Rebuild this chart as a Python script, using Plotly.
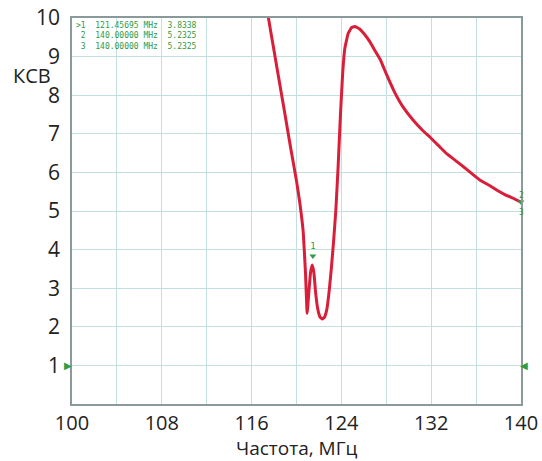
import plotly.graph_objects as go

# Frequency (MHz) and VSWR values
freq = [117.0, 117.5, 118.0, 118.5, 119.0, 119.5, 120.0, 120.3, 120.6, 120.8, 120.95,
        121.1, 121.25, 121.4, 121.55, 121.7, 121.9, 122.1, 122.3, 122.5, 122.7, 122.9,
        123.1, 123.3, 123.5, 123.7, 123.9, 124.1, 124.3, 124.6, 124.9, 125.2, 125.6,
        126.0, 126.5, 127.0, 127.5, 128.0, 128.7, 129.5, 130.4, 131.2, 131.9, 132.7,
        133.4, 134.2, 134.9, 135.7, 136.4, 137.2, 137.9, 138.6, 139.3, 140.0]
vswr = [10.85, 10.0, 9.15, 8.3, 7.46, 6.6, 5.78, 5.2, 4.45, 3.4, 2.35,
        2.9, 3.4, 3.6, 3.4, 2.9, 2.45, 2.25, 2.2, 2.25, 2.45, 2.9,
        3.5, 4.2, 5.0, 6.1, 7.4, 8.5, 9.2, 9.6, 9.75, 9.78, 9.72,
        9.6, 9.4, 9.15, 8.9, 8.55, 8.1, 7.69, 7.35, 7.1, 6.91, 6.68,
        6.48, 6.3, 6.14, 5.95, 5.79, 5.66, 5.53, 5.42, 5.33, 5.23]

x_ticks = [100, 108, 116, 124, 132, 140]
y_ticks = [1, 2, 3, 4, 5, 6, 7, 8, 9, 10]

marker_freq = [121.45695, 140.0, 140.0]
marker_vswr = [3.8338, 5.2325, 5.2325]
marker_names = ["1", "2", "3"]
marker_table = [">1  121.45695 MHz  3.8338",
                " 2  140.00000 MHz  5.2325",
                " 3  140.00000 MHz  5.2325"]

ref_level = 1

RED = "#d91e3a"
GREEN = "#2e9b45"
GRID = "#c2e0e0"

fig = go.Figure()
fig.add_trace(go.Scatter(x=freq, y=vswr, mode="lines",
                         line=dict(color=RED, width=3, shape="spline", smoothing=0.3),
                         showlegend=False, hoverinfo="skip"))

# marker 1
fig.add_trace(go.Scatter(x=[marker_freq[0]], y=[marker_vswr[0]], mode="markers+text",
                         marker=dict(symbol="triangle-down", size=6, color=GREEN),
                         text=[marker_names[0]], textposition="top center",
                         textfont=dict(color=GREEN, size=9, family="DejaVu Sans Mono"),
                         showlegend=False, cliponaxis=False))
# markers 2, 3
fig.add_trace(go.Scatter(x=[marker_freq[1]], y=[marker_vswr[1]], mode="markers",
                         marker=dict(symbol="triangle-down", size=6, color=GREEN),
                         showlegend=False, cliponaxis=False))
fig.add_annotation(x=marker_freq[1], y=marker_vswr[1], text=marker_names[1], showarrow=False,
                   yshift=7, font=dict(color=GREEN, size=8, family="DejaVu Sans Mono"))
fig.add_annotation(x=marker_freq[2], y=marker_vswr[2], text=marker_names[2], showarrow=False,
                   yshift=-10, font=dict(color=GREEN, size=8, family="DejaVu Sans Mono"))

# reference level triangles
fig.add_annotation(x=x_ticks[0], y=ref_level, text="▶", showarrow=False, xshift=-4,
                   font=dict(color=GREEN, size=10))
fig.add_annotation(x=x_ticks[-1], y=ref_level, text="◀", showarrow=False, xshift=3,
                   font=dict(color=GREEN, size=10))

# marker table
fig.add_annotation(xref="paper", yref="paper", x=0.005, y=0.997,
                   xanchor="left", yanchor="top", showarrow=False, align="left",
                   text="<br>".join(l.replace(" ", "&nbsp;") for l in marker_table),
                   font=dict(color=GREEN, size=8, family="DejaVu Sans Mono"))

fig.add_annotation(xref="paper", yref="y", x=-0.089, y=8.5, text="КСВ", showarrow=False,
                   xanchor="center", yanchor="middle",
                   font=dict(size=20, color="#222", family="Open Sans"))

# x axis title as annotation (placed below tick labels)
fig.add_annotation(xref="paper", yref="paper", x=0.5, y=-0.113, text="Частота, МГц",
                   showarrow=False, xanchor="center", yanchor="middle",
                   font=dict(size=19, color="#222", family="Open Sans"))

fig.update_layout(
    width=542, height=461,
    margin=dict(l=72, r=21, t=18, b=57),
    paper_bgcolor="white", plot_bgcolor="white",
    font=dict(family="Open Sans", color="#222"),
    xaxis=dict(range=[100, 140], tickvals=x_ticks, showgrid=True, gridcolor=GRID,
               minor=dict(dtick=4, tick0=100, showgrid=True, gridcolor=GRID, ticks=""),
               showline=True, linecolor="#8a9a9a", linewidth=1.5, mirror=True,
               ticks="", tickfont=dict(size=20), zeroline=False, automargin=False),
    yaxis=dict(range=[0, 10], tickvals=y_ticks, showgrid=True, gridcolor=GRID,
               showline=True, linecolor="#8a9a9a", linewidth=1.5, mirror=True,
               ticks="", tickfont=dict(size=21), zeroline=False, ticklabelstandoff=6,
               automargin=False),
)

fig.write_html("out.html", config={"displayModeBar": False},
               post_script="document.body.style.margin='0';document.body.style.overflow='hidden';")
